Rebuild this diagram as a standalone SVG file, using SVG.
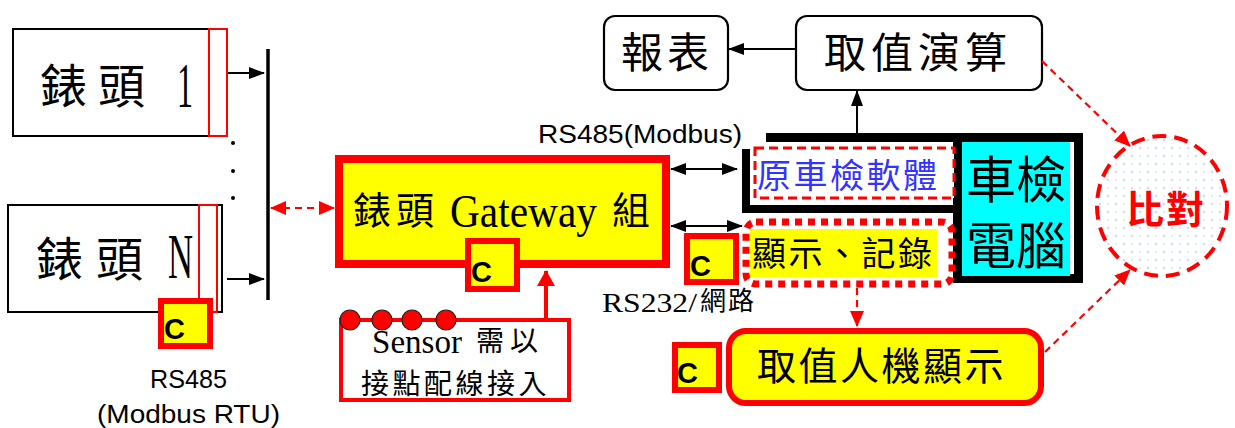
<svg xmlns="http://www.w3.org/2000/svg" width="1235" height="428" viewBox="0 0 1235 428">
<style>
.cjk{font-family:"Noto Sans CJK TC","Noto Sans CJK SC",sans-serif;}
.ser{font-family:"Liberation Serif","Noto Sans CJK TC",serif;}
.sans{font-family:"Liberation Sans","Noto Sans CJK TC",sans-serif;}
.cbox{fill:#ffff00;stroke:#ff0000;stroke-width:6;}
.ctext{font-family:"Liberation Sans",sans-serif;font-weight:bold;font-size:29px;fill:#000;}
.blk{stroke:#000;stroke-width:2;fill:none;}
.rdash{stroke:#ff0000;stroke-width:2.2;fill:none;stroke-dasharray:7,5;}
</style>
<defs>
<marker id="ab" viewBox="0 0 16 12" refX="15" refY="6" markerWidth="16" markerHeight="12" markerUnits="userSpaceOnUse" orient="auto-start-reverse"><path d="M0,0 L16,6 L0,12 Z" fill="#000"/></marker>
<marker id="ar" viewBox="0 0 16 14" refX="15" refY="7" markerWidth="16" markerHeight="14" markerUnits="userSpaceOnUse" orient="auto-start-reverse"><path d="M0,0 L16,7 L0,14 Z" fill="#ff0000"/></marker>
<marker id="arb" viewBox="0 0 16 18" refX="15" refY="9" markerWidth="16" markerHeight="18" markerUnits="userSpaceOnUse" orient="auto"><path d="M0,0 L16,9 L0,18 Z" fill="#ff0000"/></marker>
<pattern id="dots" width="16" height="16" patternUnits="userSpaceOnUse"><circle cx="4" cy="4" r="1.3" fill="#c9dcf2"/><circle cx="12" cy="12" r="1.3" fill="#c9dcf2"/><circle cx="12" cy="4" r="1.1" fill="#dbe7f6"/><circle cx="4" cy="12" r="1.1" fill="#dbe7f6"/></pattern>
</defs>
<rect width="1235" height="428" fill="#fff"/>

<g id="meter1">
<rect x="13" y="29" width="214" height="107" fill="#fff" stroke="#000" stroke-width="2"/>
<rect x="209" y="29" width="18" height="107" fill="none" stroke="#ff0000" stroke-width="2"/>
<text class="cjk" x="40 98" y="103" font-size="47">錶頭</text>
<text class="ser" x="177" y="107" font-size="64" textLength="16" lengthAdjust="spacingAndGlyphs">1</text>
</g>

<g id="meterN">
<rect x="8" y="205" width="214" height="107" fill="#fff" stroke="#000" stroke-width="2"/>
<rect x="199" y="205" width="18" height="107" fill="none" stroke="#ff0000" stroke-width="2"/>
<text class="cjk" x="36 96" y="276" font-size="47">錶頭</text>
<text class="ser" x="168" y="278" font-size="64" textLength="25" lengthAdjust="spacingAndGlyphs">N</text>
<rect class="cbox" x="161" y="301" width="49" height="45"/>
<text class="ctext" x="164" y="339">C</text>
</g>

<g id="rs485label">
<text class="sans" x="150" y="388" font-size="25" textLength="77" lengthAdjust="spacingAndGlyphs">RS485</text>
<text class="sans" x="97" y="423" font-size="25" textLength="183" lengthAdjust="spacingAndGlyphs">(Modbus RTU)</text>
</g>

<g id="bus">
<line x1="268" y1="49" x2="268" y2="300" stroke="#000" stroke-width="3.5"/>
<circle cx="233" cy="143" r="2" fill="#000"/>
<circle cx="233" cy="171" r="2" fill="#000"/>
<circle cx="233" cy="198" r="2" fill="#000"/>
</g>

<g id="gateway">
<rect x="339" y="159" width="327" height="105" fill="#ffff00" stroke="#ff0000" stroke-width="8"/>
<text class="cjk" x="353 396" y="224" font-size="38">錶頭</text>
<text class="ser" x="450" y="227" font-size="46" textLength="147" lengthAdjust="spacingAndGlyphs">Gateway</text>
<text class="cjk" x="612" y="224" font-size="38">組</text>
<rect class="cbox" x="468" y="241" width="49" height="48"/>
<text class="ctext" x="471" y="282">C</text>
</g>

<g id="sensor">
<rect x="341" y="320" width="228" height="80" fill="#fff" stroke="#ff0000" stroke-width="4"/>
<text class="ser" x="372" y="353" font-size="34" textLength="90" lengthAdjust="spacingAndGlyphs">Sensor</text>
<text class="cjk" x="476 510" y="351" font-size="28">需以</text>
<text class="cjk" x="361 392.5 424 455.5 487 518.5" y="394" font-size="28">接點配線接入</text>
<circle cx="350" cy="320" r="10" fill="#ff0000" stroke="#222" stroke-width="1.2"/>
<circle cx="382" cy="320" r="10" fill="#ff0000" stroke="#222" stroke-width="1.2"/>
<circle cx="412" cy="320" r="10" fill="#ff0000" stroke="#222" stroke-width="1.2"/>
<circle cx="446" cy="320" r="10" fill="#ff0000" stroke="#222" stroke-width="1.2"/>
</g>

<g id="computer">
<path d="M766,137.5 H958" stroke="#000" stroke-width="9" fill="none"/>
<path d="M746,149 V209 H960" stroke="#000" stroke-width="8" fill="none"/>
<rect x="957.5" y="137.5" width="121" height="141" fill="#fff" stroke="#000" stroke-width="9"/>
<rect x="962" y="142" width="108" height="134" fill="#00ffff"/>
<text class="cjk" x="966 1016" y="198" font-size="50">車檢</text>
<text class="cjk" x="966 1016" y="264" font-size="50">電腦</text>
</g>

<g id="software">
<rect x="755" y="148" width="199" height="50" fill="#fff" stroke="#ff0000" stroke-width="3" stroke-dasharray="9,5"/>
<text class="cjk" x="757 793.5 830 866.5 903" y="188" font-size="34" fill="#3333ff">原車檢軟體</text>
</g>

<g id="display">
<rect x="746" y="222" width="206" height="62" rx="10" fill="#fff" stroke="#ff0000" stroke-width="7" stroke-dasharray="7,6"/>
<rect x="750" y="229" width="187" height="48" fill="#ffff00"/>
<text class="cjk" x="752 788.5 825 861.5 898" y="266" font-size="34">顯示、記錄</text>
<rect class="cbox" x="687" y="236" width="49" height="46"/>
<text class="ctext" x="690" y="276">C</text>
</g>

<g id="rs485modbus">
<text class="sans" x="538" y="143" font-size="26" textLength="204" lengthAdjust="spacingAndGlyphs">RS485(Modbus)</text>
</g>

<g id="rs232">
<text class="ser" x="602" y="312" font-size="28" textLength="95" lengthAdjust="spacingAndGlyphs">RS232/</text>
<text class="cjk" x="700 728" y="310" font-size="26">網路</text>
</g>

<g id="report">
<rect x="604" y="16" width="124" height="74" rx="11" fill="#fff" stroke="#000" stroke-width="2.2"/>
<text class="cjk" x="621 667" y="68" font-size="42">報表</text>
</g>

<g id="calc">
<rect x="796" y="16" width="246" height="74" rx="11" fill="#fff" stroke="#000" stroke-width="2.2"/>
<text class="cjk" x="824 871 918 965" y="68" font-size="42">取值演算</text>
</g>

<g id="hmi">
<rect x="729" y="331" width="312" height="72" rx="17" fill="#ffff00" stroke="#ff0000" stroke-width="6"/>
<text class="cjk" x="757 798.5 840 881.5 923 964.5" y="380" font-size="39">取值人機顯示</text>
<rect class="cbox" x="675" y="345" width="44" height="45"/>
<text class="ctext" x="677" y="383">C</text>
</g>

<g id="compare">
<ellipse cx="1162" cy="206" rx="65" ry="70" fill="url(#dots)" stroke="#ff0000" stroke-width="4" stroke-dasharray="14,8"/>
<text class="cjk" x="1126 1166" y="223" font-size="38" font-weight="bold" fill="#ff0000">比對</text>
</g>

<g id="connectors">
<line class="blk" x1="228" y1="73" x2="264" y2="73" marker-end="url(#ab)"/>
<line class="blk" x1="227" y1="279" x2="264" y2="279" marker-end="url(#ab)"/>
<line class="rdash" x1="271" y1="208" x2="334" y2="208" marker-start="url(#ar)" marker-end="url(#ar)"/>
<line class="blk" x1="671" y1="169" x2="737" y2="169" marker-start="url(#ab)" marker-end="url(#ab)"/>
<line class="blk" x1="671" y1="226" x2="742" y2="226" marker-start="url(#ab)" marker-end="url(#ab)"/>
<line x1="546" y1="318" x2="546" y2="271" stroke="#ff0000" stroke-width="4" marker-end="url(#arb)"/>
<line class="blk" x1="857" y1="133" x2="857" y2="91" marker-end="url(#ab)"/>
<line class="blk" x1="796" y1="49" x2="729" y2="49" marker-end="url(#ab)"/>
<line class="rdash" x1="857" y1="288" x2="857" y2="326" stroke-dasharray="5,5" marker-end="url(#ar)"/>
<line class="rdash" x1="1042" y1="61" x2="1130" y2="146" marker-end="url(#ar)"/>
<line class="rdash" x1="1045" y1="352" x2="1130" y2="270" marker-end="url(#ar)"/>
</g>
</svg>
